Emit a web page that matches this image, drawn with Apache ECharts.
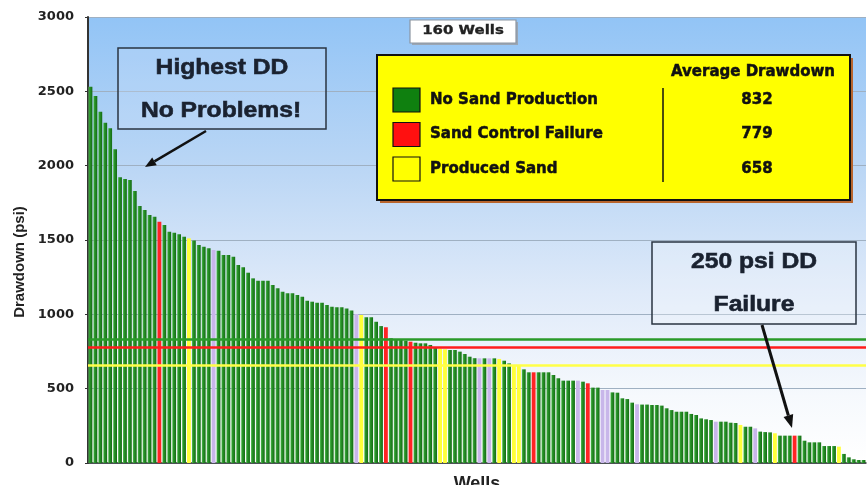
<!DOCTYPE html>
<html>
<head>
<meta charset="utf-8">
<script src="https://cdn.jsdelivr.net/npm/echarts@6/dist/echarts.min.js"></script>
<style>
  html, body { margin: 0; padding: 0; background: #ffffff; }
  #chart { width: 867px; height: 485px; }
</style>
</head>
<body>
<div id="chart"></div>
<script>
// Drawdown per well (psi), wells sorted from highest to lowest drawdown
const wellDrawdown = [
  2531, 2469, 2363, 2289, 2251, 2110, 1922, 1911, 1904, 1830,
  1729, 1702, 1668, 1657, 1623, 1601, 1556, 1549, 1538, 1522,
  1511, 1496, 1466, 1455, 1444, 1432, 1428, 1399, 1399, 1388,
  1332, 1316, 1280, 1242, 1226, 1226, 1226, 1197, 1175, 1152,
  1141, 1141, 1130, 1119, 1092, 1085, 1078, 1078, 1062, 1051,
  1047, 1047, 1040, 1025, 1002, 995, 980, 980, 950, 921,
  913, 839, 832, 832, 823, 816, 809, 805, 805, 794,
  778, 770, 765, 760, 760, 749, 733, 715, 705, 704,
  704, 704, 704, 700, 688, 670, 659, 659, 630, 610,
  610, 610, 610, 610, 592, 570, 554, 554, 554, 554,
  547, 536, 507, 507, 491, 491, 475, 473, 435, 430,
  406, 395, 393, 393, 390, 390, 386, 368, 356, 345,
  345, 345, 330, 323, 300, 294, 289, 278, 278, 278,
  271, 269, 256, 244, 244, 233, 211, 208, 206, 200,
  184, 184, 184, 184, 184, 150, 139, 139, 139, 114,
  114, 114, 110, 61, 38, 25, 20, 20
];

// Sand status per well: G = no sand production, R = sand control failure,
// Y = produced sand, L = not classified
const wellStatus = [
  'G','G','G','G','G','G','G','G','G','G',
  'G','G','G','G','R','G','G','G','G','G',
  'Y','G','G','G','G','L','G','G','G','G',
  'G','G','G','G','G','G','G','G','G','G',
  'G','G','G','G','G','G','G','G','G','G',
  'G','G','G','G','L','Y','G','G','G','G',
  'R','G','G','G','G','R','G','G','G','G',
  'G','Y','Y','G','G','G','G','G','G','L',
  'G','L','G','Y','G','G','Y','Y','G','G',
  'R','G','G','G','G','G','G','G','G','L',
  'G','R','G','G','L','L','G','G','G','G',
  'G','L','G','G','G','G','G','G','G','G',
  'G','G','G','G','G','G','G','L','G','G',
  'G','G','Y','G','G','L','G','G','G','Y',
  'G','G','G','R','G','G','G','G','G','G',
  'G','G','Y','G','G','G','G','G'
];

// Legend rows and their average drawdown (psi)
const groupNames = ['No Sand Production', 'Sand Control Failure', 'Produced Sand'];
const groupAverages = [832, 779, 658];
const yTicks = [0, 500, 1000, 1500, 2000, 2500, 3000];
const wellCountLabel = '160 Wells';

const chart = echarts.init(document.getElementById('chart'), null, { renderer: 'canvas' });

const greenFill = new echarts.graphic.LinearGradient(0, 0, 1, 0, [
  { offset: 0, color: '#5ec25e' },
  { offset: 0.3, color: '#2a962a' },
  { offset: 1, color: '#146a14' }
]);
const statusColor = {
  G: greenFill,
  R: '#ff2424',
  Y: '#ffff3a',
  L: '#c8b6ea'
};
const lineColors = ['#2a9a2a', '#ff1c1c', '#ffff48'];
const swatchColors = ['#0f800f', '#ff1010', '#ffff00'];

const barData = wellDrawdown.map((v, i) => ({
  value: v,
  itemStyle: { color: statusColor[wellStatus[i]] }
}));

function arrow(x1, y1, x2, y2, lw, hl, hw) {
  const a = Math.atan2(y2 - y1, x2 - x1);
  const bx = x2 - hl * Math.cos(a), by = y2 - hl * Math.sin(a);
  const px = -Math.sin(a) * hw / 2, py = Math.cos(a) * hw / 2;
  return [
    { type: 'line', z: 100, shape: { x1: x1, y1: y1, x2: bx, y2: by },
      style: { stroke: '#111', lineWidth: lw } },
    { type: 'polygon', z: 100, shape: { points: [[x2, y2], [bx + px, by + py], [bx - px, by - py]] },
      style: { fill: '#111' } }
  ];
}

// text with a thin outline in its own ink to give the heavy poster weight
function label(text, x, y, font, align, scaleX, fill, weight) {
  const ink = fill || '#111';
  return {
    type: 'text', z: 101, x: x, y: y, scaleX: scaleX || 1,
    style: {
      text: text, font: font, fill: ink,
      stroke: ink, lineWidth: weight || 0,
      textAlign: align || 'center', textVerticalAlign: 'middle'
    }
  };
}

const annoFont = 'bold 22px "Liberation Sans", Arial, sans-serif';
const annoInk = '#1a2230';
const legendFont = 'bold 15px "DejaVu Sans", sans-serif';
const tagFont = 'bold 11.5px "DejaVu Sans", sans-serif';

const graphics = [
  // "Highest DD" callout
  { type: 'rect', z: 100, shape: { x: 118, y: 48, width: 208, height: 81 },
    style: { fill: 'rgba(210,228,250,0.25)', stroke: '#2a3442', lineWidth: 1.5 } },
  label('Highest DD', 222, 68, annoFont, 'center', 1.12, annoInk, 0.6),
  label('No Problems!', 221, 111, annoFont, 'center', 1.12, annoInk, 0.6),
  ...arrow(206, 131, 145, 167, 2.5, 11, 9),

  // "250 psi DD" callout
  { type: 'rect', z: 100, shape: { x: 652, y: 242, width: 204, height: 82 },
    style: { fill: 'rgba(245,248,253,0.3)', stroke: '#2a3442', lineWidth: 1.5 } },
  label('250 psi DD', 754, 262, annoFont, 'center', 1.12, annoInk, 0.6),
  label('Failure', 754, 305, annoFont, 'center', 1.12, annoInk, 0.6),
  ...arrow(762, 325, 792, 428, 3, 13, 10),

  // well count tag
  { type: 'rect', z: 100, shape: { x: 412, y: 22, width: 106, height: 23 }, style: { fill: '#9aa6b4' } },
  { type: 'rect', z: 100, shape: { x: 410, y: 20, width: 106, height: 23 },
    style: { fill: '#ffffff', stroke: '#8c96a2', lineWidth: 1.2 } },
  label(wellCountLabel, 463, 31.5, tagFont, 'center', 1.3, '#222', 0.3),

  // legend panel
  { type: 'rect', z: 100, shape: { x: 380, y: 58, width: 473, height: 145 }, style: { fill: '#b8652e' } },
  { type: 'rect', z: 100, shape: { x: 377, y: 55, width: 473, height: 145 },
    style: { fill: '#ffff00', stroke: '#111', lineWidth: 2 } },
  label('Average Drawdown', 753, 72, legendFont, 'center', 1, '#111', 0.5),
  { type: 'line', z: 101, shape: { x1: 663, y1: 88, x2: 663, y2: 182 },
    style: { stroke: '#111', lineWidth: 1.5 } }
];

const rowY = [100, 134.5, 169];
groupNames.forEach((name, k) => {
  graphics.push({ type: 'rect', z: 101, shape: { x: 393, y: rowY[k] - 12, width: 27, height: 24 },
    style: { fill: swatchColors[k], stroke: '#111', lineWidth: 1.2 } });
  graphics.push(label(name, 430, rowY[k], legendFont, 'left', 1, '#111', 0.5));
  graphics.push(label(String(groupAverages[k]), 757, rowY[k], legendFont, 'center', 1, '#111', 0.5));
});

const option = {
  animation: false,
  backgroundColor: '#ffffff',
  grid: {
    left: 88, right: 1, top: 17, bottom: 22,
    containLabel: false,
    outerBoundsMode: 'none',
    show: true, borderWidth: 0,
    backgroundColor: new echarts.graphic.LinearGradient(0, 0, 0, 1, [
      { offset: 0, color: '#92c4f6' },
      { offset: 0.35, color: '#bcd7f5' },
      { offset: 0.62, color: '#dfeaf9' },
      { offset: 0.85, color: '#f6f9fd' },
      { offset: 1, color: '#ffffff' }
    ])
  },
  xAxis: {
    type: 'category',
    data: wellDrawdown.map((_, i) => 'Well ' + (i + 1)),
    name: 'Wells',
    nameLocation: 'middle',
    nameGap: 12,
    nameTextStyle: { fontFamily: '"Liberation Sans", Arial, sans-serif', fontWeight: 'bold', fontSize: 18, color: '#222', verticalAlign: 'top' },
    axisLine: { lineStyle: { color: '#333', width: 1.5 } },
    axisTick: { show: false },
    axisLabel: { show: false },
    splitLine: { show: false }
  },
  yAxis: {
    type: 'value',
    min: yTicks[0], max: yTicks[yTicks.length - 1], interval: 500,
    name: 'Drawdown (psi)',
    nameLocation: 'middle',
    nameGap: 56,
    nameRotate: 90,
    nameTextStyle: { fontFamily: '"Liberation Sans", Arial, sans-serif', fontWeight: 'bold', fontSize: 15, color: '#222', padding: [0, 44, 0, 0] },
    axisLine: { show: true, lineStyle: { color: '#333', width: 2 } },
    axisTick: { show: true, length: 3, lineStyle: { color: '#333' } },
    axisLabel: {
      fontFamily: '"DejaVu Sans", sans-serif', fontWeight: 'bold', fontSize: 13, color: '#222', margin: 14,
      formatter: (v) => String(v)
    },
    splitLine: { show: true, lineStyle: { color: '#9fb0c2', width: 1 } }
  },
  series: [{
    type: 'bar',
    data: barData,
    barCategoryGap: '22%',
    silent: true,
    markLine: {
      silent: true,
      symbol: 'none',
      label: { show: false },
      data: groupAverages.map((v, k) => ({ yAxis: v, lineStyle: { color: lineColors[k], width: 2.5, type: 'solid' } }))
    }
  }],
  graphic: graphics
};

chart.setOption(option);
</script>
</body>
</html>
